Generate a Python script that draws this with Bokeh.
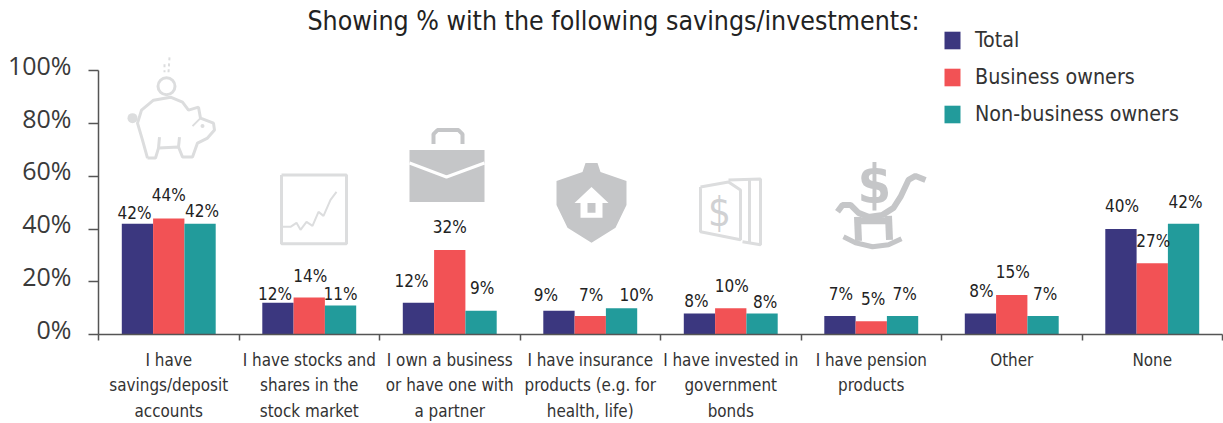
from bokeh.plotting import figure
from bokeh.embed import file_html
from bokeh.resources import INLINE
from bokeh.core.properties import value
from bokeh.models import (ColumnDataSource, LabelSet, Label, Legend, LegendItem,
                          FixedTicker, Range1d, LinearAxis, PrintfTickFormatter)

categories = [
    "I have\nsavings/deposit\naccounts",
    "I have stocks and\nshares in the\nstock market",
    "I own a business\nor have one with\na partner",
    "I have insurance\nproducts (e.g. for\nhealth, life)",
    "I have invested in\ngovernment\nbonds",
    "I have pension\nproducts",
    "Other",
    "None",
]
total = [42, 12, 12, 9, 8, 7, 8, 40]
business_owners = [44, 14, 32, 7, 10, 5, 15, 27]
non_business_owners = [42, 11, 9, 10, 8, 7, 7, 42]
series_names = ["Total", "Business owners", "Non-business owners"]
y_ticks = [0, 20, 40, 60, 80, 100]
title_text = "Showing % with the following savings/investments:"

# layout ----------------------------------------------------------------
colors = ["#3b377f", "#f25255", "#229b9b"]
FONT = "DejaVu Sans Condensed"
TXT = "#333333"
LEFT, RIGHT = 98.0, 1222.0     # page px of the x axis ends
BASE, TOP = 335.0, 70.5        # page px of 0% and 100%
W, H = 1223, 423
group_px = (RIGHT - LEFT) / 8
pct_px = (BASE - TOP) / 100
bar_w = 31.3 / group_px
y_end = BASE / pct_px
label_lift = 6 / pct_px        # y tick labels sit a little above their ticks

# nudges of each value label (px from the bar's centre / px above bar top)
label_dx = [[-3, 0, 2], [-3, 1, 0], [-7, 0, 1], [-13, 1, 15], [-3, 1, 3], [1, 2, 2], [1, 1, 2], [1, 1, 2]]
label_dy = [[11, 23, 13], [9, 22, 11], [22, 23, 23], [16, 21, 13], [12, 22, 11], [22, 22, 22], [22, 23, 22], [23, 22, 22]]

p = figure(width=W, height=H, output_backend="svg", toolbar_location=None,
           x_range=Range1d(0, 8), y_range=Range1d(0, y_end),
           min_border_left=int(LEFT), min_border_right=int(W - RIGHT),
           min_border_top=0, min_border_bottom=int(H - BASE))
p.outline_line_color = None
p.grid.visible = False
p.background_fill_color = "white"


def sx(px):
    return (px - LEFT) / group_px


def sy(py):
    return (BASE - py) / pct_px


def pts(seq):
    return [sx(a) for a, _ in seq], [sy(b) for _, b in seq]


# icons -------------------------------------------------------------------
LIGHT, MID = "#dcddde", "#c5c6c8"
# piggy bank
p.line(*pts([(147, 158), (155, 158), (158, 148), (178, 147), (182, 157), (192, 157), (197, 143), (207, 138),
             (214, 130), (213, 123), (200, 118), (198, 107), (188, 110), (182, 102), (170, 97), (153, 100),
             (141, 110), (137, 123), (142, 140), (147, 158)]), line_color=LIGHT, line_width=3)
p.line(*pts([(159, 137), (158, 148)]), line_color=LIGHT, line_width=3)
p.line(*pts([(179, 137), (178, 147)]), line_color=LIGHT, line_width=3)
p.line(*pts([(192, 126), (200, 118)]), line_color=LIGHT, line_width=2)
p.scatter([sx(166)], [sy(86)], size=17, marker="circle", fill_color=None, line_color=LIGHT, line_width=3)
p.scatter([sx(132)], [sy(118)], size=10, marker="circle", fill_color=LIGHT, line_color=None)
p.scatter([sx(202)], [sy(126)], size=4, marker="circle", fill_color=LIGHT, line_color=None)
p.line(*pts([(169, 57), (168, 72)]), line_color=LIGHT, line_width=2, line_dash="3 3")
p.line(*pts([(164, 64), (164, 72)]), line_color=LIGHT, line_width=2, line_dash="3 3")
# stock chart
p.line(*pts([(281, 175), (346, 175), (346, 244), (281, 244), (281, 175)]), line_color=LIGHT, line_width=3)
p.line(*pts([(282, 227), (290, 227), (296, 223), (300, 230), (306, 222), (312, 226), (318, 212), (323, 216),
             (330, 200), (336, 192)]), line_color=LIGHT, line_width=2)
# briefcase
p.patch(*pts([(409, 150), (484, 150), (484, 202), (409, 202)]), fill_color=MID, line_color=None)
p.line(*pts([(409, 163), (446, 177), (484, 163)]), line_color="white", line_width=3)
p.line(*pts([(433, 144), (433, 134), (437, 130), (458, 130), (462, 134), (462, 144)]), line_color=MID, line_width=4)
# shield
p.patch(*pts([(585, 163), (597, 163), (600, 172), (626, 181), (626, 205), (615, 228), (591, 243), (567, 228),
              (556, 205), (556, 181), (582, 172)]), fill_color=MID, line_color=None)
p.patch(*pts([(591, 187), (574, 203), (580, 203), (580, 218), (602, 218), (602, 203), (608, 203)]),
        fill_color="white", line_color=None)
p.patch(*pts([(587, 203), (595, 203), (595, 213), (587, 213)]), fill_color=MID, line_color=None)
# bills
p.line(*pts([(700, 187), (728, 182), (740, 190), (740, 240), (700, 232), (700, 187)]), line_color=LIGHT, line_width=3)
p.line(*pts([(728, 180), (760, 179), (760, 245), (742, 242)]), line_color=LIGHT, line_width=3)
p.line(*pts([(749, 180), (749, 243)]), line_color=LIGHT, line_width=3)
# rocking chair
p.line(*pts([(925, 180), (915, 176), (908, 180), (900, 197), (893, 208), (882, 215), (868, 217), (858, 213),
             (850, 205), (842, 205), (837, 212)]), line_color=MID, line_width=6)
p.line(*pts([(843, 237), (855, 243), (872, 247), (888, 245), (901, 239)]), line_color=MID, line_width=5)
p.line(*pts([(857, 217), (858, 241)]), line_color=MID, line_width=7)
p.line(*pts([(888, 216), (889, 240)]), line_color=MID, line_width=7)
p.line(*pts([(858, 221), (888, 221)]), line_color=MID, line_width=7)
p.add_layout(Label(x=sx(719), y=sy(212), text="$", text_color="#d0d1d3", text_font_size="40px", text_font=FONT,
                   text_align="center", text_baseline="middle"))
p.add_layout(Label(x=sx(874), y=sy(185), text="$", text_color=MID, text_font_size="54px", text_font=FONT,
                   text_font_style="bold", text_align="center", text_baseline="middle"))

# bars and value labels -----------------------------------------------------
renderers = []
for s, vals in enumerate([total, business_owners, non_business_owners]):
    xs = [i + 0.5 + (s - 1) * bar_w for i in range(len(vals))]
    src = ColumnDataSource(dict(
        x=xs, top=vals, text=[f"{v}%" for v in vals],
        dx=[row[s] for row in label_dx], dy=[row[s] for row in label_dy]))
    renderers.append(p.vbar(x="x", top="top", bottom=0, width=bar_w, source=src,
                            fill_color=colors[s], line_color=None))
    p.add_layout(LabelSet(x="x", y="top", text="text", source=src, x_offset="dx", y_offset="dy",
                          text_font=value(FONT), text_font_size="17px", text_color="#222222",
                          text_align="center", text_baseline="middle"))

# axes -----------------------------------------------------------------------
AX = "#555555"
centres = [i + 0.5 for i in range(len(categories))]
xa = p.xaxis[0]
xa.ticker = FixedTicker(ticks=centres, minor_ticks=list(range(len(categories) + 1)))
xa.major_label_overrides = dict(zip(centres, categories))
xa.major_tick_line_color = None
xa.major_tick_in = 0
xa.major_tick_out = 0
xa.minor_tick_in = 0
xa.minor_tick_out = 6
xa.minor_tick_line_color = AX
xa.minor_tick_line_width = 1.5
xa.axis_line_color = AX
xa.axis_line_width = 1.5
xa.major_label_standoff = 9
xa.major_label_text_font = FONT
xa.major_label_text_font_size = "16.9px"
xa.major_label_text_color = TXT
xa.major_label_text_line_height = 1.275
xa.major_label_orientation = "horizontal"

ya = p.yaxis[0]
ya.ticker = FixedTicker(ticks=y_ticks)
ya.major_label_overrides = {t: "" for t in y_ticks}
ya.bounds = (0, 100)
ya.major_tick_in = 0
ya.major_tick_out = 10
ya.major_label_standoff = 0
ya.minor_tick_line_color = None
ya.axis_line_color = AX
ya.major_tick_line_color = AX
ya.axis_line_width = 1.5
ya.major_tick_line_width = 1.5

p.extra_y_ranges = {"lift": Range1d(-label_lift, y_end - label_lift)}
ya2 = LinearAxis(y_range_name="lift", ticker=FixedTicker(ticks=y_ticks),
                 formatter=PrintfTickFormatter(format="%d%%"),
                 axis_line_color=None, major_tick_line_color=None, minor_tick_line_color=None,
                 major_tick_in=0, major_tick_out=0, major_label_standoff=17,
                 major_label_text_font="Open Sans", major_label_text_font_size="25px",
                 major_label_text_color="#3a3a3a")
p.add_layout(ya2, "left")

# title and legend ------------------------------------------------------------
p.add_layout(Label(x=sx(613), y=sy(20), text=title_text, text_font=FONT, text_font_size="26.5px",
                   text_color="#222222", text_align="center", text_baseline="middle"))
legend = Legend(items=[LegendItem(label=n, renderers=[r]) for n, r in zip(series_names, renderers)],
                location=(844, 208), orientation="vertical", glyph_width=20, glyph_height=22,
                label_standoff=13, spacing=12, padding=0, margin=0,
                border_line_color=None, background_fill_alpha=0,
                label_text_font=FONT, label_text_font_size="21.3px", label_text_color=TXT,
                label_height=22)
p.add_layout(legend, "center")

open("out.html", "w").write(file_html(p, INLINE))
